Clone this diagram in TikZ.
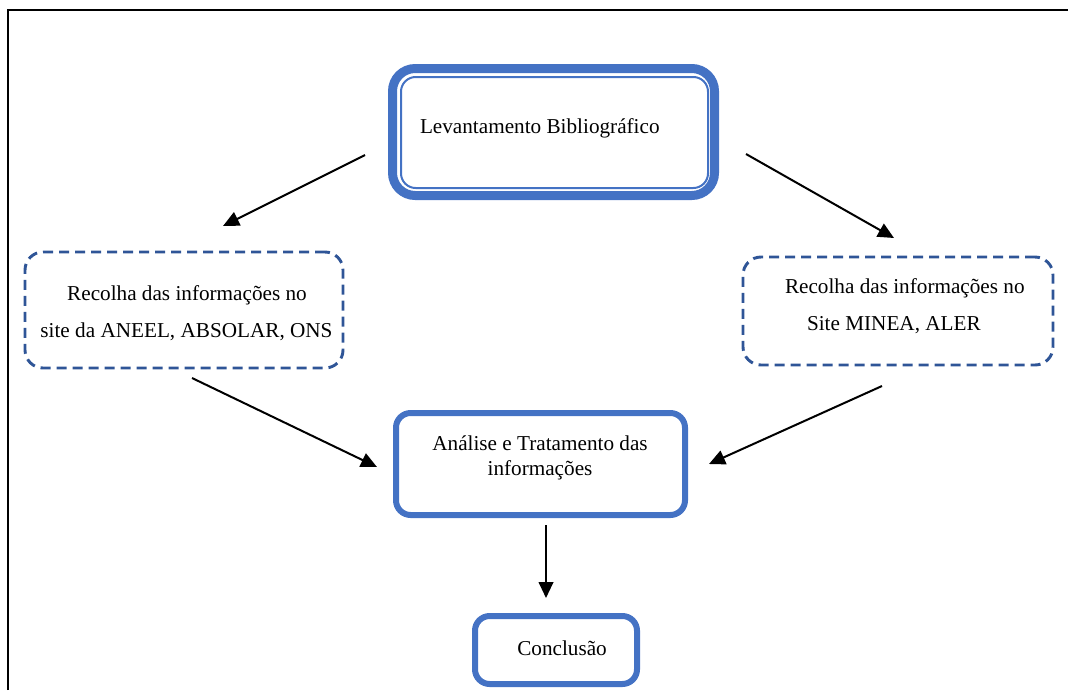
\documentclass[tikz,border=0pt]{standalone}
\usepackage{fontspec}
\setmainfont{Liberation Serif}
\usetikzlibrary{arrows.meta}
\definecolor{boxblue}{HTML}{4472C4}
\definecolor{dashblue}{HTML}{2F5597}
\begin{document}
\begin{tikzpicture}[x=0.75pt,y=-0.75pt,
  every node/.style={inner sep=0pt, outer sep=0pt},
  txt/.style={font=\fontsize{15.9}{19}\selectfont, text=black},
  solidbox/.style={draw=boxblue, line width=4.5pt, rounded corners=11pt, rectangle},
  dashbox/.style={draw=dashblue, line width=2.2pt, dash pattern=on 7.5pt off 4.5pt, rounded corners=13.5pt, rectangle},
  conn/.style={draw=black, line width=1.5pt, -{Triangle[length=12pt,width=11pt]}}]
\useasboundingbox (0,0) rectangle (1069,690);
% frame
\draw[line width=1.6pt] (8,690) -- (8,10) -- (1068,10);
% top double box
\node[draw=boxblue, line width=6.75pt, rounded corners=17pt, minimum width=241.5pt, minimum height=95.25pt] (topouter) at (553.5,132) {};
\node[draw=boxblue, line width=1.5pt, rounded corners=11pt, minimum width=230.25pt, minimum height=83.25pt] (topinner) at (554.5,132.5) {};
\node[txt, anchor=base west] (toptext) at (420,133) {Levantamento Bibliográfico};
% left dashed box
\node[dashbox, minimum width=238.5pt, minimum height=87pt] (left) at (184,310) {};
\node[txt, anchor=base] (left1) at (187,300) {Recolha das informações no};
\node[txt, anchor=base] (left2) at (186.5,337) {site da ANEEL, ABSOLAR, ONS};
% right dashed box
\node[dashbox, minimum width=232.5pt, minimum height=81pt] (right) at (898,311) {};
\node[txt, anchor=base west] (right1) at (785,293) {Recolha das informações no};
\node[txt, anchor=base west] (right2) at (807,330) {Site MINEA, ALER};
% middle box
\node[solidbox, minimum width=216.75pt, minimum height=76.5pt] (mid) at (540.5,464) {};
\node[txt, anchor=base] (mid1) at (540,450) {Análise e Tratamento das};
\node[txt, anchor=base] (mid2) at (540,475) {informações};
% conclusion box
\node[solidbox, minimum width=121.5pt, minimum height=51pt] (concl) at (556,650) {};
\node[txt, anchor=base] (concltext) at (562,655) {Conclusão};
% arrow end points
\coordinate (a1s) at (365,155); \coordinate (a1e) at (223,226);
\coordinate (a2s) at (746,154); \coordinate (a2e) at (894,238);
\coordinate (a3s) at (192,378); \coordinate (a3e) at (377,467);
\coordinate (a4s) at (882,386); \coordinate (a4e) at (709,464);
\coordinate (a5s) at (546,525); \coordinate (a5e) at (546,598);
\draw[conn] (a1s) -- (a1e);
\draw[conn] (a2s) -- (a2e);
\draw[conn] (a3s) -- (a3e);
\draw[conn] (a4s) -- (a4e);
\draw[conn] (a5s) -- (a5e);
\end{tikzpicture}
\end{document}
